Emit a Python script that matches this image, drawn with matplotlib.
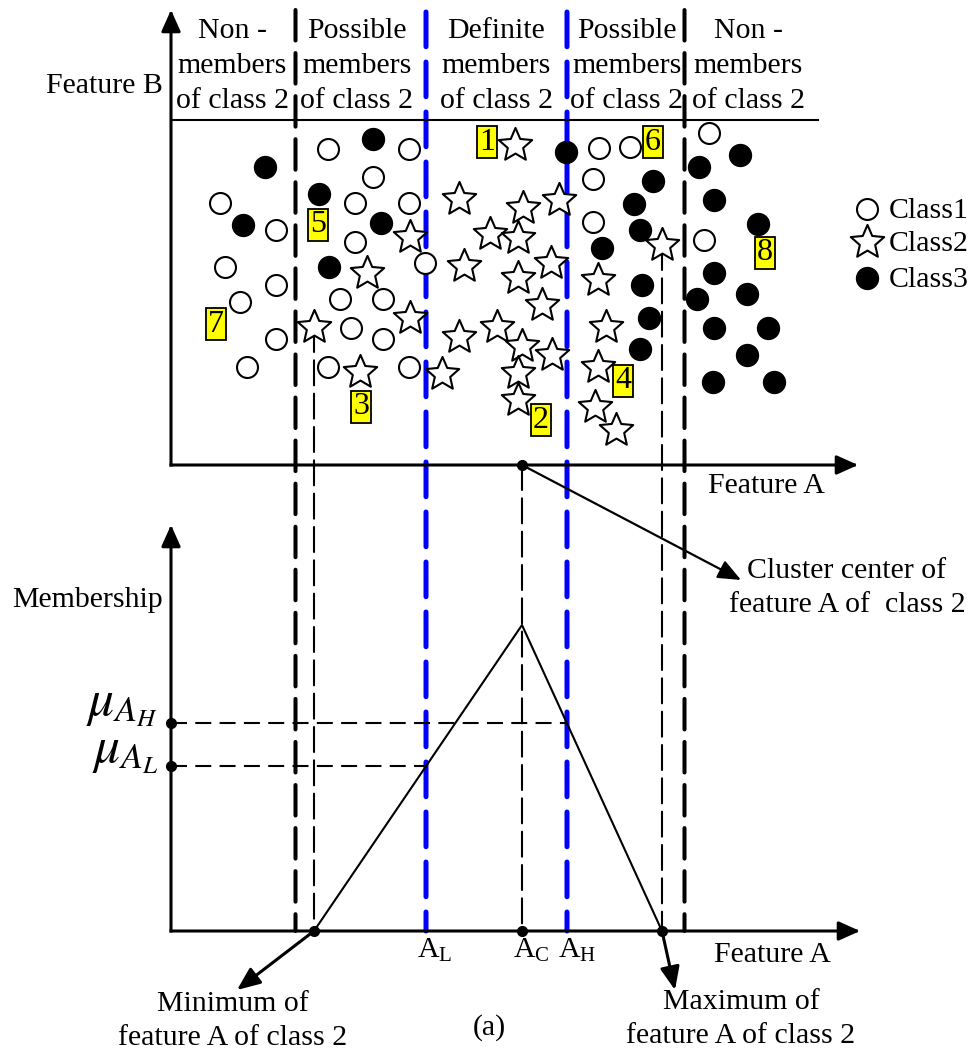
import matplotlib
matplotlib.use("Agg")
import matplotlib.pyplot as plt
from matplotlib.patches import ConnectionPatch
from matplotlib.path import Path

plt.rcParams['font.family'] = ['Liberation Serif', 'DejaVu Serif']
plt.rcParams['mathtext.fontset'] = 'stix'
plt.rcParams['lines.scale_dashes'] = False

# ---------------- data (Feature A horizontal, Feature B vertical) ----------------
class1_a = [157, 238, 202, 49, 184, 238, 105, 184, 54, 254, 105, 69, 169, 212,
            180, 105, 212, 76, 157, 238, 428, 459, 538, 422, 422, 533]
class1_b = [316, 316, 288, 262, 262, 262, 235, 223, 198, 202, 180, 163, 166, 166,
            137, 126, 126, 98, 98, 98, 317, 318, 332, 286, 243, 225]

class2_a = [344, 288, 352, 388, 319, 347, 239, 293, 196, 380, 347, 371, 239, 143,
            288, 326, 351, 381, 189, 271, 347, 347, 427, 435, 427, 424, 445, 491]
class2_b = [320, 266, 257, 265, 231, 227, 228, 199, 192, 202, 187, 160, 147, 138,
            128, 138, 119, 110, 93, 91, 92, 65, 185, 138, 98, 58, 35, 220]

class3_a = [202, 94, 148, 72, 210, 158, 395, 482, 463, 469, 431, 471, 478, 469,
            569, 528, 543, 587, 543, 526, 576, 543, 597, 576, 542, 603]
class3_b = [326, 298, 271, 240, 242, 198, 313, 284, 261, 235, 217, 180, 147, 116,
            310, 298, 265, 241, 192, 166, 171, 137, 137, 110, 83, 83]

sample_ids = ['1', '2', '3', '4', '5', '6', '7', '8']
sample_a = [316, 370, 190, 452, 147, 482, 45, 594]
sample_b = [323, 45, 58, 84, 240, 323, 141, 212]

class_names = ['Class1', 'Class2', 'Class3']
region_headers = ["Non -\nmembers\nof class 2",
                  "Possible\nmembers\nof class 2",
                  "Definite\nmembers\nof class 2",
                  "Possible\nmembers\nof class 2",
                  "Non -\nmembers\nof class 2"]

# boundaries along Feature A
possible_low = 124.5      # start of "possible members" zone
possible_high = 513.5     # end of "possible members" zone
a_low = 255               # A_L
a_center = 351            # A_C  (cluster center)
a_high = 396              # A_H
peak_membership = 1.0

# extremes of class 2 along Feature A
i_min = class2_a.index(min(class2_a))
i_max = class2_a.index(max(class2_a))
a_min, b_at_min = class2_a[i_min], class2_b[i_min]
a_max, b_at_max = class2_a[i_max], class2_b[i_max]

# triangular membership function and its values at A_L, A_H
mu_low = peak_membership * (a_low - a_min) / (a_center - a_min)
mu_high = peak_membership * (a_max - a_high) / (a_max - a_center)

# ---------------- figure layout ----------------
FS = 21.5
W, H = 971, 1052
fig = plt.figure(figsize=(W / 100, H / 100), dpi=100)

# free-text layer in pixel units, origin at top-left
ov = fig.add_axes([0, 0, 1, 1])
ov.set_xlim(0, W)
ov.set_ylim(H, 0)
ov.axis('off')

X0, XSPAN = 171, 689
ax_top = fig.add_axes([X0 / W, (H - 465) / H, XSPAN / W, 455 / H])
ax_top.set_xlim(0, XSPAN)
ax_top.set_ylim(0, 455)
ax_bot = fig.add_axes([X0 / W, (H - 931) / H, XSPAN / W, 406 / H])
ax_bot.set_xlim(0, XSPAN)
ax_bot.set_ylim(0, peak_membership * 406 / 306)
for ax in (ax_top, ax_bot):
    ax.axis('off')


def axis_arrow(ax, end):
    ax.annotate('', xy=end, xytext=(0, 0), annotation_clip=False,
                arrowprops=dict(arrowstyle='-|>,head_length=1.0,head_width=0.45',
                                mutation_scale=13, lw=2.2, color='black',
                                shrinkA=0, shrinkB=0, capstyle='projecting'))


axis_arrow(ax_top, (0, 455))
axis_arrow(ax_top, (687, 0))
axis_arrow(ax_bot, (0, peak_membership * 406 / 306))
axis_arrow(ax_bot, (XSPAN, 0))

# header separator line
ax_top.plot([0, 647], [345, 345], color='black', lw=1.5, clip_on=False)


def span_line(a, b_top, b_bot, **kw):
    con = ConnectionPatch(xyA=(a, b_top), coordsA=ax_top.transData,
                          xyB=(a, b_bot), coordsB=ax_bot.transData,
                          zorder=-1, **kw)
    fig.add_artist(con)


thick_black = dict(color='black', lw=2.9, linestyle=(0, (22, 9)))
blue_dash = dict(color='#0000ff', lw=3.6, linestyle=(0, (25, 11)))
thin_dash = dict(color='black', lw=1.5, linestyle=(0, (18, 6)))

span_line(possible_low, 455, 0, **thick_black)
span_line(possible_high, 455, 0, **thick_black)
span_line(a_low, 453, 0, **blue_dash)
span_line(a_high, 453, 0, **blue_dash)
span_line(a_min, b_at_min, 0, **thin_dash)
span_line(a_max, b_at_max, 0, **thin_dash)
span_line(a_center, 0, 0, **thin_dash)

# ---------------- scatter of the three classes ----------------
star = Path.unit_regular_star(5, 0.46)
open_kw = dict(s=228, facecolors='white', edgecolors='black', linewidths=1.5)
star_kw = dict(s=640, marker=star, facecolors='white', edgecolors='black', linewidths=1.5)
fill_kw = dict(s=282, color='black', linewidths=0)

ax_top.scatter(class1_a, class1_b, zorder=4, clip_on=False, **open_kw)
ax_top.scatter(class2_a, class2_b, zorder=4, clip_on=False, **star_kw)
ax_top.scatter(class3_a, class3_b, zorder=4, clip_on=False, **fill_kw)

for sid, a, b in zip(sample_ids, sample_a, sample_b):
    ax_top.text(a, b, sid, ha='center', va='center', fontsize=23, zorder=6,
                bbox=dict(boxstyle='square,pad=0.06', fc='#ffff00', ec='black', lw=1.3))

ax_top.plot([a_center], [0], 'o', color='black', ms=7, clip_on=False, zorder=6)

# ---------------- membership function ----------------
ax_bot.plot([a_min, a_center, a_max], [0, peak_membership, 0], color='black', lw=1.5,
            clip_on=False, zorder=3)
hdash = dict(color='black', lw=1.5, linestyle=(0, (11.5, 6)))
ax_bot.plot([0, a_low], [mu_low, mu_low], **hdash)
ax_bot.plot([0, a_high], [mu_high, mu_high], **hdash)
ax_bot.plot([a_min, a_center, a_max], [0, 0, 0], 'o', color='black', ms=7,
            clip_on=False, zorder=6)
ax_bot.plot([0, 0], [mu_low, mu_high], 'o', color='black', ms=7,
            clip_on=False, zorder=6)

for a, lab in [(a_low, r'$\mathregular{A_L}$'), (a_center, r'$\mathregular{A_C}$'),
               (a_high, r'$\mathregular{A_H}$')]:
    ax_bot.annotate(lab, xy=(a, 0), xytext=(-6.5, -19.4), textcoords='offset points',
                    ha='left', va='baseline', fontsize=FS, annotation_clip=False)

ax_bot.annotate(r'$\mu_{A_H}$', xy=(0, mu_high), xytext=(-9, 6), textcoords='offset points',
                ha='right', va='baseline', fontsize=37, annotation_clip=False)
ax_bot.annotate(r'$\mu_{A_L}$', xy=(0, mu_low), xytext=(-9, 3), textcoords='offset points',
                ha='right', va='baseline', fontsize=37, annotation_clip=False)

# ---------------- pointer arrows ----------------
ptr = dict(arrowstyle='-|>,head_length=1.0,head_width=0.42', mutation_scale=14,
           color='black', shrinkA=0, shrinkB=0)
ov.annotate('', xy=(741, 580), xytext=(a_center, 0), textcoords=ax_top.transData,
            arrowprops=dict(lw=1.6, **ptr))
ov.annotate('', xy=(237, 990), xytext=(a_min, 0), textcoords=ax_bot.transData,
            arrowprops=dict(lw=2.2, **ptr))
ov.annotate('', xy=(675, 990), xytext=(a_max, 0), textcoords=ax_bot.transData,
            arrowprops=dict(lw=2.2, **ptr))

# ---------------- text ----------------
header_x = [232, 357, 496, 627, 748]
for cx, header in zip(header_x, region_headers):
    for j, line in enumerate(header.split('\n')):
        ov.text(cx, 38 + 35 * j, line, ha='center', va='baseline', fontsize=FS)

ov.text(163, 93, 'Feature B', ha='right', va='baseline', fontsize=FS)
ov.text(766, 493, 'Feature A', ha='center', va='baseline', fontsize=FS)
ov.text(772, 962, 'Feature A', ha='center', va='baseline', fontsize=FS)
ov.text(163, 607, 'Membership', ha='right', va='baseline', fontsize=FS)

ov.text(847, 578, 'Cluster center of', ha='center', va='baseline', fontsize=FS)
ov.text(847, 612, 'feature A of  class 2', ha='center', va='baseline', fontsize=FS)
ov.text(233, 1011, 'Minimum of', ha='center', va='baseline', fontsize=FS)
ov.text(233, 1045, 'feature A of class 2', ha='center', va='baseline', fontsize=FS)
ov.text(741, 1009, 'Maximum of', ha='center', va='baseline', fontsize=FS)
ov.text(741, 1043, 'feature A of class 2', ha='center', va='baseline', fontsize=FS)
ov.text(489, 1035, '(a)', ha='center', va='baseline', fontsize=FS)

# ---------------- class key ----------------
key_y = [209, 242, 278]
ov.scatter([867], [key_y[0]], **open_kw)
ov.scatter([867], [key_y[1]], **star_kw)
ov.scatter([867], [key_y[2]], **fill_kw)
for y, name in zip(key_y, class_names):
    ov.text(889, y + 9, name, ha='left', va='baseline', fontsize=FS)

fig.savefig('out.png', dpi=100)
